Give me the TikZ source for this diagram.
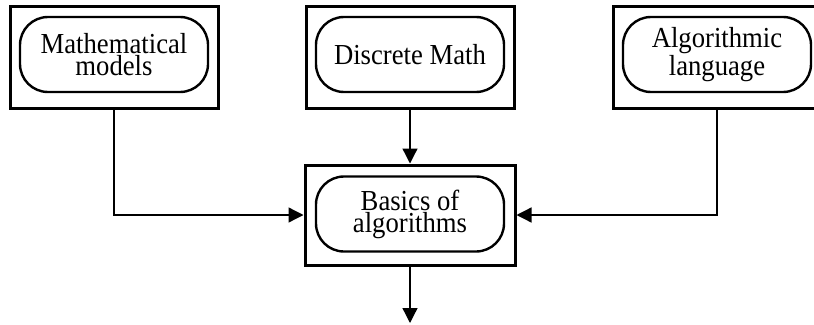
\documentclass[tikz,border=0pt]{standalone}
\usepackage{fontspec}
\setmainfont{Liberation Serif}[FakeStretch=0.92]
\usetikzlibrary{arrows.meta}

\begin{document}
\begin{tikzpicture}[x=1pt,y=-1pt,>={Triangle[length=15pt,width=15pt]}]
  \tikzstyle{frame}=[draw,line width=3pt,minimum width=208pt,minimum height=102pt]
  \tikzstyle{unit}=[draw,line width=2.4pt,rounded corners=28pt,align=center,minimum width=188pt,minimum height=75pt,font=\fontsize{29}{22}\selectfont]
  \clip (0,0) rectangle (814,324);
  \node[frame] (mathmod) at (114,57) {};
  \node[unit] (mathmod-in) at (114,54.5) {Mathematical\\models};
  \node[frame] (discrete) at (410,57) {};
  \node[unit] (discrete-in) at (410,54.5) {Discrete Math};
  \node[frame] (alglang) at (717,57) {};
  \node[unit] (alglang-in) at (717,54.5) {Algorithmic\\language};
  \node[frame,minimum width=210pt,minimum height=100pt] (basics) at (410,215) {};
  \node[unit] (basics-in) at (410,214) {Basics of\\algorithms};
  \coordinate (out) at (410,323);
  \draw[->,line width=1.3pt] (mathmod) |- (basics);
  \draw[->,line width=1.3pt] (alglang) |- (basics);
  \foreach \a/\b in {discrete/basics,basics/out}
    \draw[->,line width=1.3pt] (\a) -- (\b);
\end{tikzpicture}
\end{document}
